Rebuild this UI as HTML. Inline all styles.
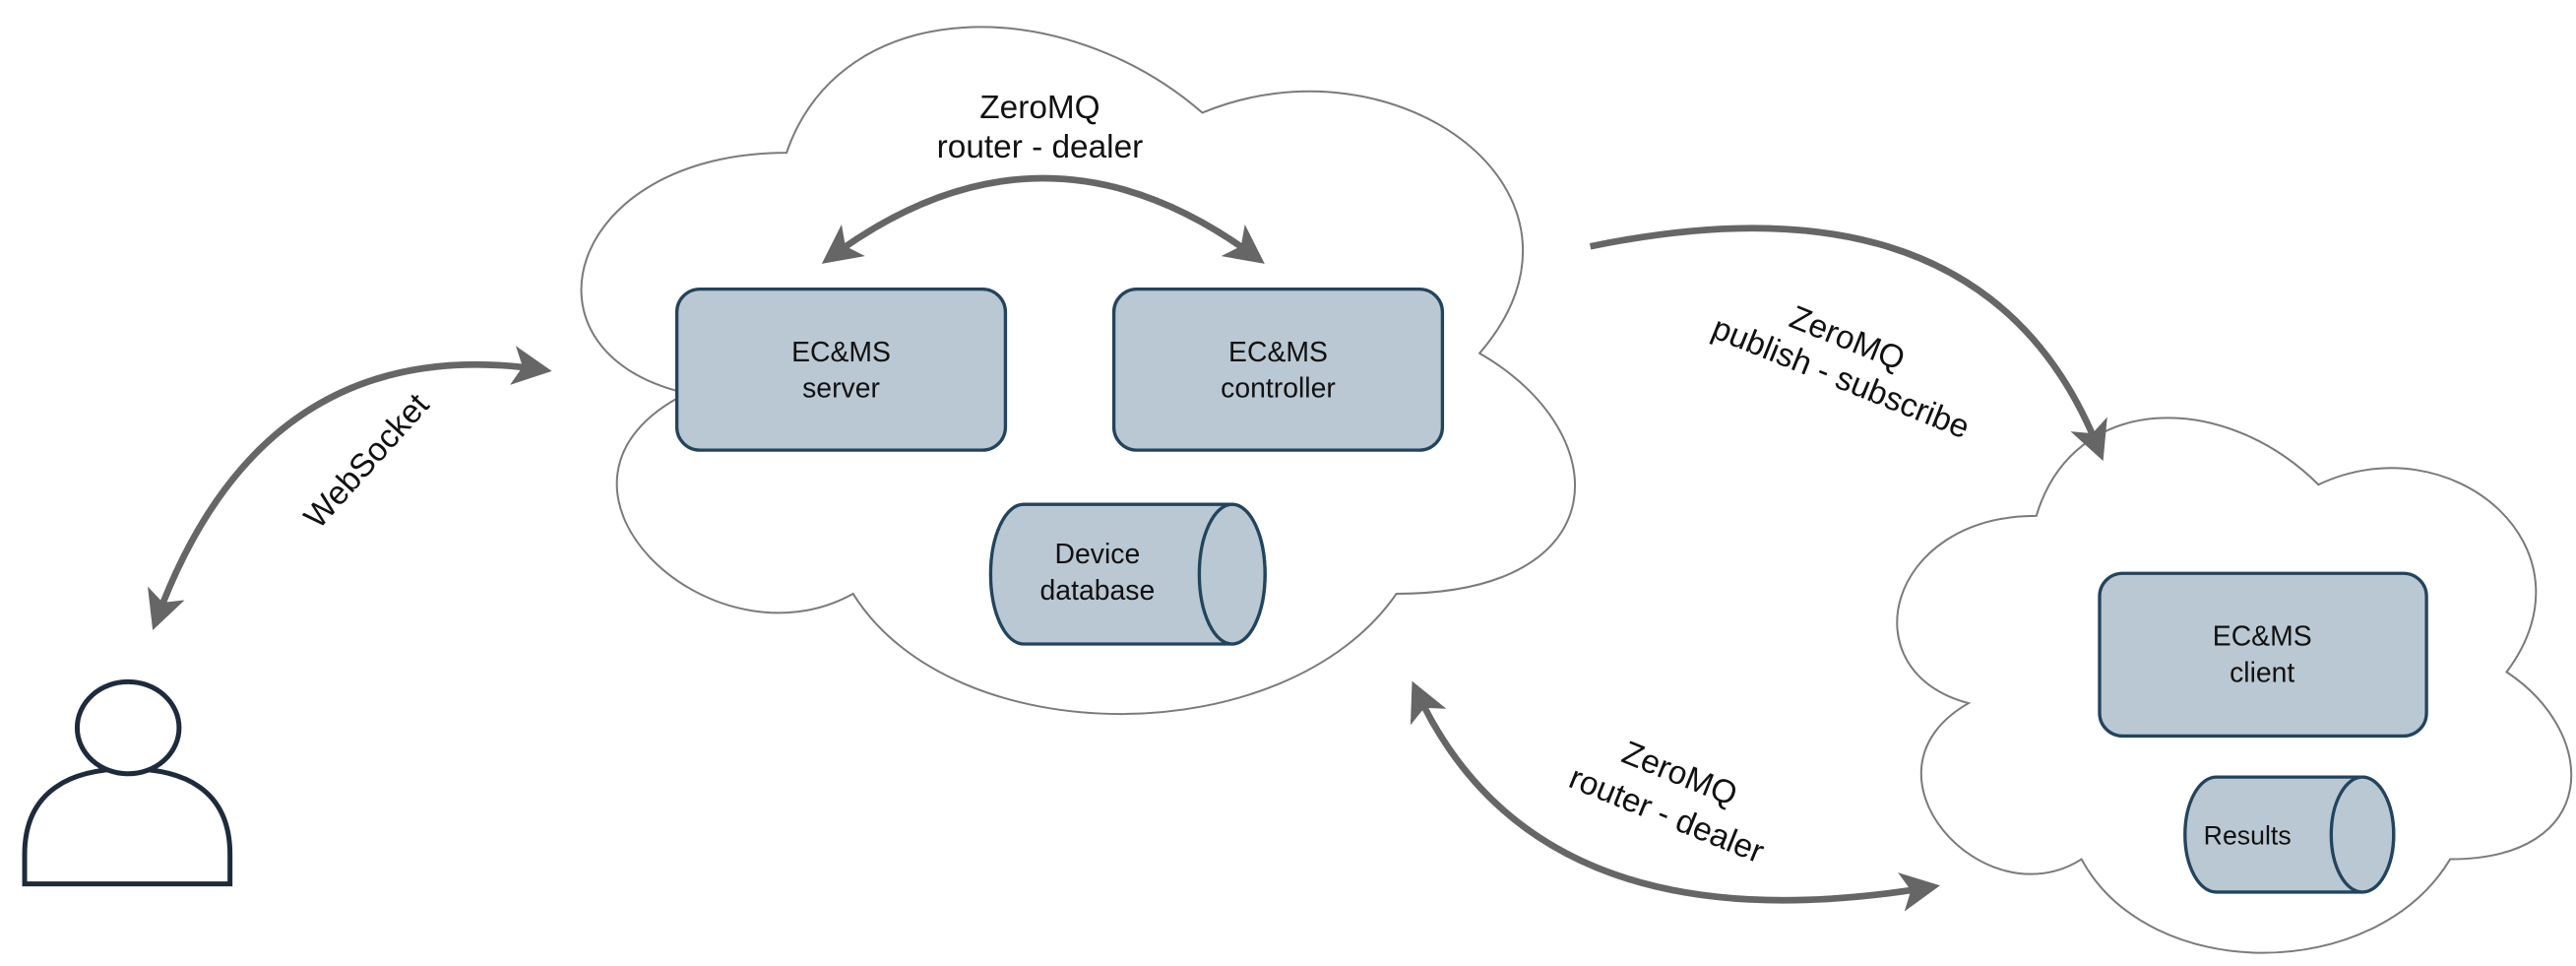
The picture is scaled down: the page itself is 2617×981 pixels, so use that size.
<!DOCTYPE html>
<html><head><meta charset="utf-8"><style>
html,body{margin:0;padding:0;background:#fff;}
svg{display:block;}
text{font-family:"Liberation Sans",sans-serif;fill:#111;}
</style></head><body>
<svg width="2617" height="981" viewBox="0 0 1568 588" preserveAspectRatio="none" xmlns="http://www.w3.org/2000/svg">
<defs>
<marker id="ah" markerWidth="6" markerHeight="6" refX="4.5" refY="3" orient="auto-start-reverse" markerUnits="strokeWidth">
<path d="M0,0 L6,3 L0,6 L1.5,3 Z" fill="#666"/>
</marker>
</defs>
<path transform="translate(310,-29) scale(675,488)" d="M0.25,0.25 C0.05,0.25 0,0.5 0.16,0.55 C0,0.66 0.18,0.9 0.31,0.8 C0.4,1 0.7,1 0.8,0.8 C1,0.8 1,0.6 0.875,0.5 C1,0.3 0.8,0.1 0.625,0.2 C0.5,0.05 0.3,0.05 0.25,0.25 Z" fill="#fff" stroke="#7a7a7a" stroke-width="2" vector-effect="non-scaling-stroke"/>
<path transform="translate(1125,219) scale(458,380)" d="M0.25,0.25 C0.05,0.25 0,0.5 0.16,0.55 C0,0.66 0.18,0.9 0.31,0.8 C0.4,1 0.7,1 0.8,0.8 C1,0.8 1,0.6 0.875,0.5 C1,0.3 0.8,0.1 0.625,0.2 C0.5,0.05 0.3,0.05 0.25,0.25 Z" fill="#fff" stroke="#7a7a7a" stroke-width="2" vector-effect="non-scaling-stroke"/>

<g fill="#bac8d3" stroke="#23445d" stroke-width="2">
<rect x="412" y="176" width="200" height="98" rx="14"/>
<rect x="678" y="176" width="200" height="98" rx="14"/>
<rect x="1278" y="349" width="199" height="99" rx="14"/>
<path d="M623,307 L750,307 A20,42.5 0 0 1 750,392 L623,392 A20,42.5 0 0 1 623,307 Z"/>
<ellipse cx="750" cy="349.5" rx="20" ry="42.5"/>
<path d="M1349,473 L1438,473 A19,35 0 0 1 1438,543 L1349,543 A19,35 0 0 1 1349,473 Z"/>
<ellipse cx="1438" cy="508" rx="19" ry="35"/>
</g>
<g font-size="17" text-anchor="middle">
<text x="512" y="220">EC&amp;MS</text><text x="512" y="242">server</text>
<text x="778" y="220">EC&amp;MS</text><text x="778" y="242">controller</text>
<text x="668" y="343">Device</text><text x="668" y="365">database</text>
<text x="1377" y="393">EC&amp;MS</text><text x="1377" y="415">client</text>
<text x="1368" y="514" font-size="16">Results</text>
</g>

<g fill="none" stroke="#666" stroke-width="4">
<path d="M505,157 Q635,60 765,157" marker-start="url(#ah)" marker-end="url(#ah)"/>
<path d="M330,225 Q160,200 95,378" marker-start="url(#ah)" marker-end="url(#ah)"/>
<path d="M968,150 Q1210,100 1278,275" marker-end="url(#ah)"/>
<path d="M862,420 Q935,580 1175,540" marker-start="url(#ah)" marker-end="url(#ah)"/>
</g>

<g font-size="20" text-anchor="middle">
<text x="633" y="72">ZeroMQ</text><text x="633" y="96">router - dealer</text>
<text transform="translate(228,285) rotate(-48)" x="0" y="0">WebSocket</text>
<text transform="translate(1122,212) rotate(22)" x="0" y="0">ZeroMQ</text>
<text transform="translate(1118,236) rotate(22)" x="0" y="0">publish - subscribe</text>
<text transform="translate(1020,477) rotate(22)" x="0" y="0">ZeroMQ</text>
<text transform="translate(1012,502) rotate(22)" x="0" y="0">router - dealer</text>
</g>

<g fill="#fff" stroke="#1e2b3c" stroke-width="3">
<path d="M15,538 L15,520 C15,480 45,468 78,468 C111,468 140,480 140,520 L140,538 Z"/>
<ellipse cx="78" cy="443" rx="31" ry="28"/>
</g>
</svg>
</body></html>
